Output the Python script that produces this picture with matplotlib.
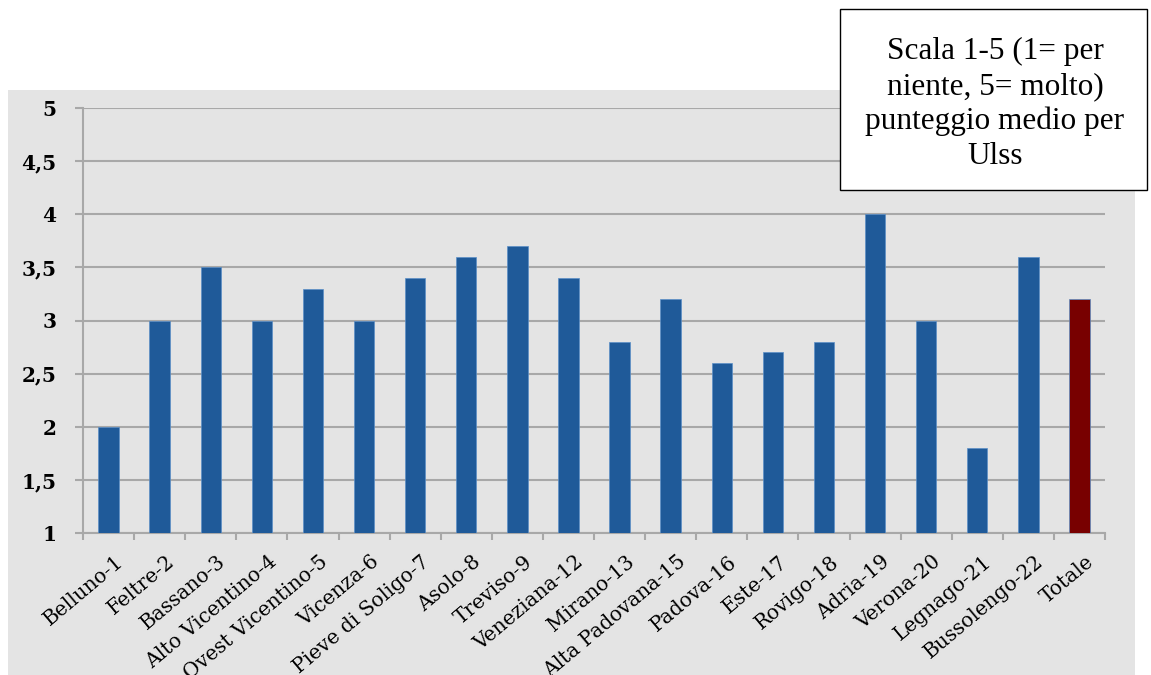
import matplotlib.pyplot as plt
from matplotlib.patches import Rectangle
import numpy as np

ulss = ['Belluno-1', 'Feltre-2', 'Bassano-3', 'Alto Vicentino-4', 'Ovest Vicentino-5',
        'Vicenza-6', 'Pieve di Soligo-7', 'Asolo-8', 'Treviso-9', 'Veneziana-12',
        'Mirano-13', 'Alta Padovana-15', 'Padova-16', 'Este-17', 'Rovigo-18',
        'Adria-19', 'Verona-20', 'Legnago-21', 'Bussolengo-22', 'Totale']
punteggio = [2, 3, 3.5, 3, 3.3, 3, 3.4, 3.6, 3.7, 3.4,
             2.8, 3.2, 2.6, 2.7, 2.8, 4, 3, 1.8, 3.6, 3.2]
yticks = [1, 1.5, 2, 2.5, 3, 3.5, 4, 4.5, 5]
ylabels = ['1', '1,5', '2', '2,5', '3', '3,5', '4', '4,5', '5']

W, H = 1151, 675
fig = plt.figure(figsize=(W/100, H/100), dpi=100)
fig.patch.set_facecolor('white')
bg = '#e4e4e4'
fig.patches.append(Rectangle((8/W, 0), (1135-8)/W, 1-90/H, transform=fig.transFigure,
                             facecolor=bg, edgecolor='none', zorder=-1))

ax = fig.add_axes([83/W, 1-533/H, (1105-83)/W, (533-108)/H])
ax.set_facecolor(bg)
x = np.arange(len(ulss))
colori = ['#1f5a99'] * (len(ulss) - 1) + ['#780000']
ax.bar(x, np.array(punteggio) - 1, bottom=1, width=0.4, color=colori,
       edgecolor='#5b8fc7', linewidth=0.5, zorder=3)
ax.set_xlim(-0.5, len(ulss) - 0.5)
ax.set_ylim(1, 5)
ax.set_yticks(yticks)
ax.set_yticklabels(ylabels, fontsize=14.5, fontweight='bold', family='DejaVu Serif')
ax.grid(axis='y', color='#a8a8a8', linewidth=1.5, zorder=1)
ax.tick_params(axis='y', length=6, color='#a8a8a8', width=1.5, pad=13)

ax.set_xticks(np.arange(-0.5, len(ulss)), minor=False)
ax.set_xticklabels([])
ax.tick_params(axis='x', length=5, color='#a8a8a8', width=1.5)
for xi, lab in zip(x, ulss):
    ax.text(xi + 0.12, 0.82, lab, rotation=40, ha='right', va='top', rotation_mode='anchor',
            fontsize=14.5, family='DejaVu Serif', transform=ax.transData, clip_on=False)

for s in ['top', 'right']:
    ax.spines[s].set_visible(False)
for s in ['left', 'bottom']:
    ax.spines[s].set_color('#a8a8a8')
    ax.spines[s].set_linewidth(1.5)

fig.patches.append(Rectangle((840/W, 1-190/H), (1147-840)/W, (190-9)/H, transform=fig.transFigure,
                             facecolor='white', edgecolor='black', linewidth=1, zorder=5))
fig.text(995/W, 1-104/H, 'Scala 1-5 (1= per\nniente, 5= molto)\npunteggio medio per\nUlss',
         ha='center', va='center', fontsize=22.5, family='Liberation Serif',
         linespacing=1.25, zorder=6)

fig.savefig('out.png', dpi=100)
